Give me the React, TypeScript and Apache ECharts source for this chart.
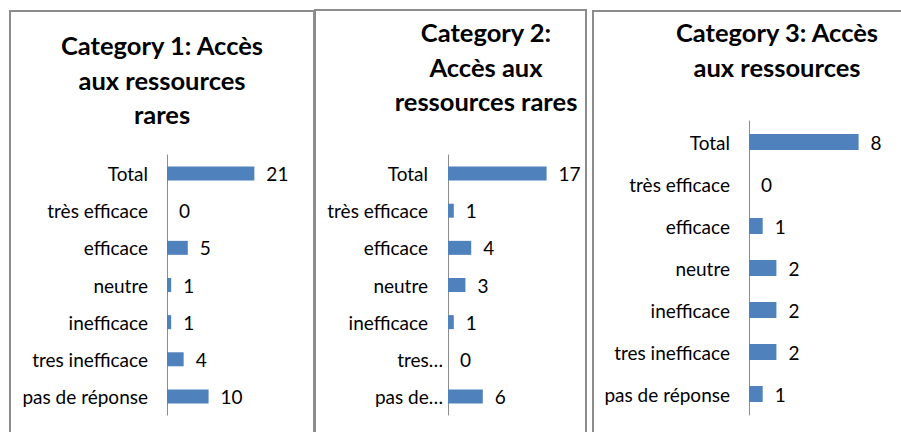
import React, { useEffect, useRef } from "react";
import * as echarts from "echarts";

const categories = [
  "Total",
  "très efficace",
  "efficace",
  "neutre",
  "inefficace",
  "tres inefficace",
  "pas de réponse",
];
const labels2 = [
  "Total",
  "très efficace",
  "efficace",
  "neutre",
  "inefficace",
  "tres…",
  "pas de…",
];
const values1 = [21, 0, 5, 1, 1, 4, 10];
const values2 = [17, 1, 4, 3, 1, 0, 6];
const values3 = [8, 0, 1, 2, 2, 2, 1];
const titles = [
  "Category 1: Accès\naux ressources\nrares",
  "Category 2:\nAccès aux\nressources rares",
  "Category 3: Accès\naux ressources",
];

const FONT = "Lato, 'Open Sans', sans-serif";
const BAR = "#4F81BD";
const TXT = "#000000";
const LBL = 19;
const TTL = 25.5;

export default function App() {
  const ref = useRef<HTMLDivElement>(null);
  useEffect(() => {
    if (!ref.current) return;
    const chart = echarts.init(ref.current, null, { renderer: "svg" });
    const grids = [
      { left: 167, top: 155, width: 104, height: 260 },
      { left: 448, top: 155, width: 116, height: 260 },
      { left: 749, top: 121, width: 137, height: 294 },
    ];
    const maxes = [25, 20, 10];
    const series = [values1, values2, values3];
    const yLabelBase = {
      color: TXT,
      fontFamily: FONT,
      fontSize: LBL,
    };
    const titleStyle = (text: string) => ({
      text,
      fill: TXT,
      font: `bold ${TTL}px ${FONT}`,
      textAlign: "center",
      textVerticalAlign: "top",
      lineHeight: 34.5,
    });
    const option: any = {
      animation: false,
      backgroundColor: "#ffffff",
      grid: grids.map((g) => ({ ...g, containLabel: false })),
      xAxis: grids.map((_, i) => ({
        type: "value",
        gridIndex: i,
        min: 0,
        max: maxes[i],
        show: false,
        splitLine: { show: false },
      })),
      yAxis: grids.map((_, i) => ({
        type: "category",
        gridIndex: i,
        inverse: true,
        data: categories,
        axisLine: { show: true, lineStyle: { color: "#8c8c8c", width: 1 } },
        axisTick: { show: false },
        splitLine: { show: false },
        axisLabel:
          i === 1
            ? {
                ...yLabelBase,
                margin: 5,
                formatter: (_v: string, idx: number) =>
                  labels2[idx].endsWith("…")
                    ? `{t|${labels2[idx]}}`
                    : `{n|${labels2[idx]}}`,
                rich: {
                  n: { ...yLabelBase, padding: [0, 15, 0, 0] },
                  t: { ...yLabelBase },
                },
              }
            : { ...yLabelBase, margin: 19 },
      })),
      series: series.map((vals, i) => ({
        type: "bar",
        xAxisIndex: i,
        yAxisIndex: i,
        data: vals,
        barWidth: i === 2 ? 16 : 14,
        itemStyle: { color: BAR },
        label: {
          show: true,
          position: "right",
          distance: 12,
          color: TXT,
          fontFamily: FONT,
          fontSize: LBL,
        },
      })),
      graphic: [
        {
          type: "rect",
          shape: { x: 10, y: 11, width: 304, height: 440 },
          style: { fill: "none", stroke: "#8c8c8c", lineWidth: 2 },
        },
        {
          type: "rect",
          shape: { x: 315, y: 10, width: 271, height: 440 },
          style: { fill: "none", stroke: "#8c8c8c", lineWidth: 2 },
        },
        {
          type: "rect",
          shape: { x: 593, y: 11, width: 330, height: 440 },
          style: { fill: "none", stroke: "#8c8c8c", lineWidth: 2 },
        },
        { type: "text", x: 162, y: 28, style: titleStyle(titles[0]) },
        { type: "text", x: 486, y: 15, style: titleStyle(titles[1]) },
        { type: "text", x: 777, y: 15, style: titleStyle(titles[2]) },
      ],
    };
    chart.setOption(option);
    return () => chart.dispose();
  }, []);
  return (
    <div
      ref={ref}
      style={{ position: "fixed", left: 0, top: 0, width: 901, height: 432 }}
    />
  );
}
